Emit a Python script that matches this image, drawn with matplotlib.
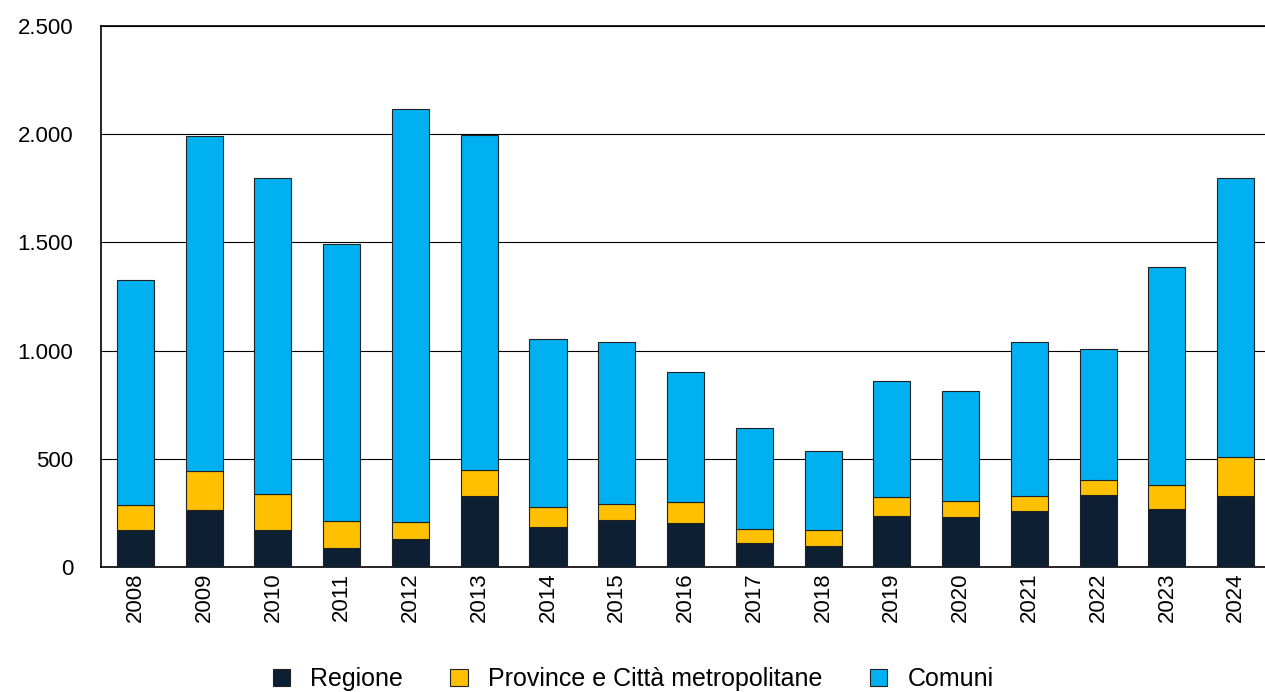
import matplotlib
matplotlib.use("Agg")
import matplotlib.pyplot as plt
import numpy as np

years = ["2008", "2009", "2010", "2011", "2012", "2013", "2014", "2015", "2016",
         "2017", "2018", "2019", "2020", "2021", "2022", "2023", "2024"]
regione = [171, 263, 171, 86, 128, 330, 184, 216, 202, 110, 98, 237, 231, 259, 331, 268, 330]
province = [115, 180, 166, 127, 79, 120, 93, 77, 100, 66, 75, 85, 73, 69, 70, 110, 178]
totale = [1327, 1992, 1798, 1494, 2117, 1997, 1055, 1040, 902, 642, 537, 860, 814, 1041, 1008, 1387, 1797]
comuni = [t - r - p for t, r, p in zip(totale, regione, province)]

plt.rcParams['font.family'] = ['Liberation Sans', 'DejaVu Sans']

fig = plt.figure(figsize=(12.65, 6.92), dpi=100)
ax = fig.add_axes([101/1265, 1 - 567/692, (1268-101)/1265, (567-26)/692])

x = np.arange(len(years))
w = 0.54
ec = '#222222'
lw = 0.8
b1 = ax.bar(x, regione, w, color='#0D1F33', edgecolor=ec, linewidth=lw, label='Regione', zorder=3)
b2 = ax.bar(x, province, w, bottom=regione, color='#FFC000', edgecolor=ec, linewidth=lw,
            label='Province e Città metropolitane', zorder=3)
bot2 = [r + p for r, p in zip(regione, province)]
b3 = ax.bar(x, comuni, w, bottom=bot2, color='#00B0F0', edgecolor=ec, linewidth=lw,
            label='Comuni', zorder=3)

ax.set_xlim(-0.5, 16.47)
ax.set_ylim(0, 2500)
ax.set_yticks([0, 500, 1000, 1500, 2000, 2500])
ax.set_yticklabels(['0', '500', '1.000', '1.500', '2.000', '2.500'])
ax.yaxis.grid(True, color='black', linewidth=0.8, zorder=0)
ax.set_axisbelow(True)
ax.set_xticks(x)
ax.set_xticklabels(years, rotation=90)
ax.tick_params(axis='both', length=0, labelsize=16)
ax.tick_params(axis='y', pad=20)
ax.tick_params(axis='x', pad=4)
ax.spines['right'].set_visible(False)
for s in ['left', 'top', 'bottom']:
    ax.spines[s].set_linewidth(1.2)
    ax.spines[s].set_color('black')

leg = fig.legend(handles=[b1, b2, b3], loc='center', bbox_to_anchor=(633/1265, 1 - 679/692),
                 ncol=3, frameon=False, fontsize=18, handlelength=0.7, handleheight=0.7,
                 columnspacing=1.9, handletextpad=0.8)

fig.savefig('out.png', dpi=100)
